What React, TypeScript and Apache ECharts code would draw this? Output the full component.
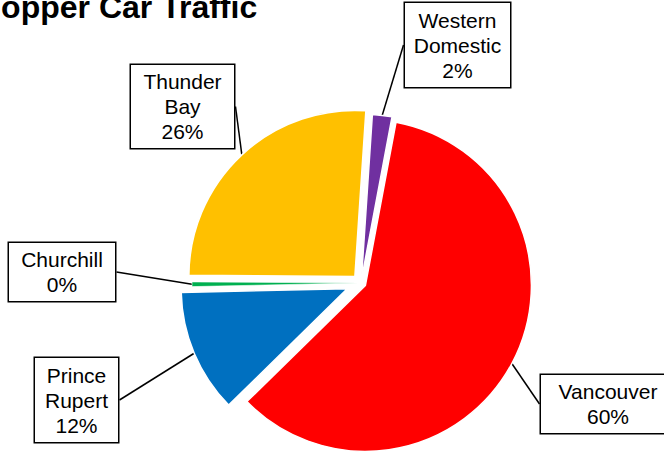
import React, { useEffect, useRef } from "react";
import * as echarts from "echarts";

// ---- data ----
const categories = ["Western Domestic", "Vancouver", "Prince Rupert", "Churchill", "Thunder Bay"];
const shares = [1.9, 59.7, 12.0, 0.45, 25.95];

// ---- styles ----
const sliceColors = ["#7030A0", "#FF0000", "#0070C0", "#00B050", "#FFC000"];
const explodeOffsets = [3, 5, 15, 3, 9];
const sliceBorders = [1.5, 1.5, 1.5, 0.6, 1.5];
const boxCenters: [number, number][] = [
  [457.5, 45],
  [608, 404],
  [76.5, 400],
  [62, 272],
  [182.5, 106.5],
];
const boxSizes: [number, number][] = [
  [105, 84],
  [134, 58],
  [83, 84],
  [106, 58],
  [103, 83],
];

const FONT = "'Liberation Sans', Arial, sans-serif";
const PIE_CENTER: [number, number] = [361, 283];
const START_ANGLE = 86.2; // degrees, ECharts convention (90 = 12 o'clock)

export default function App() {
  const ref = useRef<HTMLDivElement>(null);
  useEffect(() => {
    if (!ref.current) return;
    const chart = echarts.init(ref.current, undefined, { renderer: "svg" });
    const total = shares.reduce((a, b) => a + b, 0);
    let cum = 0;
    const series = categories.map((_, k) => {
      const midFrac = (cum + shares[k] / 2) / total;
      cum += shares[k];
      // clockwise angle from 12 o'clock
      const a = ((90 - START_ANGLE) + midFrac * 360) * (Math.PI / 180);
      const off = explodeOffsets[k];
      const center = [PIE_CENTER[0] + off * Math.sin(a), PIE_CENTER[1] - off * Math.cos(a)];
      return {
        type: "pie",
        center,
        radius: 166,
        startAngle: START_ANGLE,
        clockwise: true,
        avoidLabelOverlap: false,
        silent: true,
        emphasis: { disabled: true },
        data: categories.map((name, i) => ({
          name,
          value: shares[i],
          itemStyle:
            i === k
              ? { color: sliceColors[i], borderColor: "#fff", borderWidth: sliceBorders[i] }
              : { color: "rgba(0,0,0,0)", borderWidth: 0 },
          label:
            i === k
              ? { show: true, width: boxSizes[i][0], height: boxSizes[i][1] - 8 }
              : { show: false },
          labelLine: { show: i === k },
        })),
        label: {
          position: "outside",
          formatter: (p: any) => `${p.name.replace(" ", "\n")}\n${Math.round(p.percent)}%`,
          fontFamily: FONT,
          fontSize: 21,
          lineHeight: 25,
          color: "#000",
          backgroundColor: "#fff",
          borderColor: "#000",
          borderWidth: 1.5,
          padding: [4, 0],
          align: "center",
          verticalAlign: "middle",
        },
        labelLine: {
          show: true,
          length: 10,
          length2: 0,
          lineStyle: { color: "#000", width: 1.5 },
        },
        labelLayout: (p: any) =>
          p.dataIndex === k
            ? { x: boxCenters[k][0], y: boxCenters[k][1], align: "center", verticalAlign: "middle" }
            : {},
      };
    });
    chart.setOption({
      animation: false,
      backgroundColor: "#fff",
      title: {
        text: "Hopper Car Traffic",
        left: -22,
        top: -9,
        padding: 0,
        textStyle: {
          fontFamily: FONT,
          fontSize: 32,
          fontWeight: "bold",
          color: "#000",
          lineHeight: 32,
        },
      },
      series,
    } as any);
    return () => chart.dispose();
  }, []);
  // The canvas is a little wider than the 664px window so that the
  // Vancouver callout box can run past the right edge, as in the original.
  return (
    <div
      ref={ref}
      style={{ position: "fixed", left: 0, top: 0, width: 720, height: 453 }}
    />
  );
}
